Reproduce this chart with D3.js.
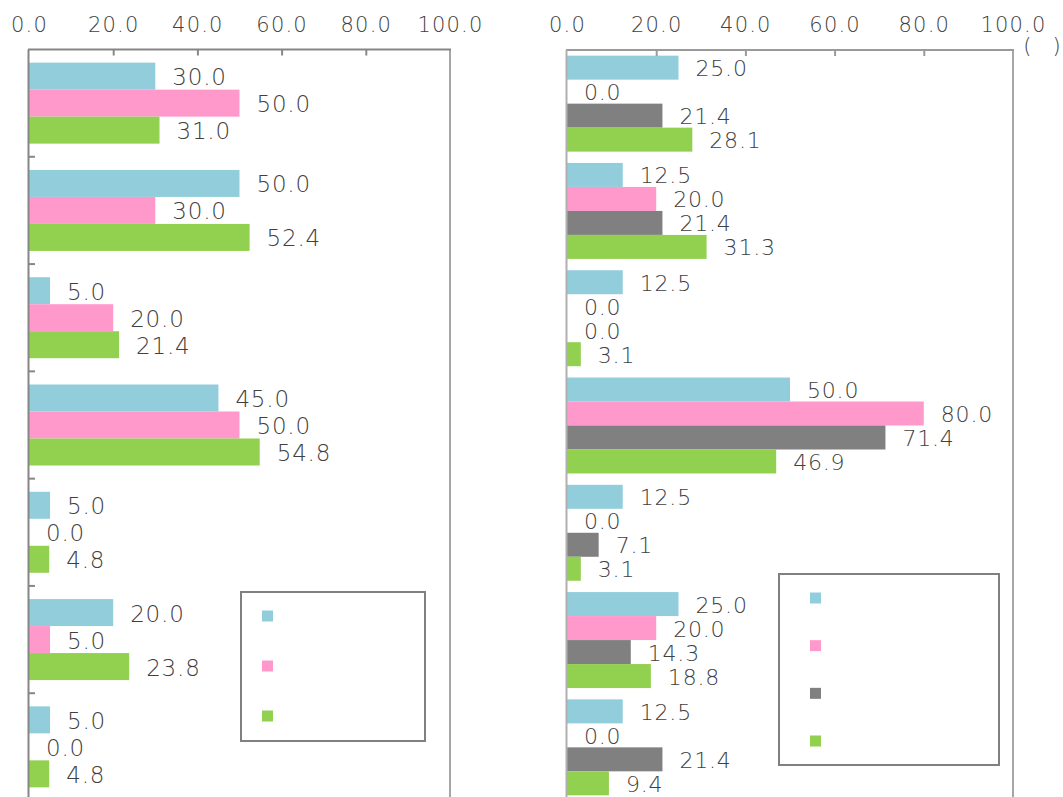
<!DOCTYPE html>
<html>
<head>
<meta charset="utf-8">
<script src="https://cdn.jsdelivr.net/npm/d3@7"></script>
<style>
    body { margin: 0; background: #fff; }
    svg { display: block; }
    text { font-family: "DejaVu Sans", sans-serif; font-weight: 200; fill: #404040; }
</style>
</head>
<body>
<div id="chart"></div>
<script>
// categories (labels are not shown in the picture)
let groups = [0, 1, 2, 3, 4, 5, 6];
let tickValues = [0, 20, 40, 60, 80, 100];

// left panel
let leftBlue  = [30.0, 50.0, 5.0, 45.0, 5.0, 20.0, 5.0];
let leftPink  = [50.0, 30.0, 20.0, 50.0, 0.0, 5.0, 0.0];
let leftGreen = [31.0, 52.4, 21.4, 54.8, 4.8, 23.8, 4.8];

// right panel
let rightBlue  = [25.0, 12.5, 12.5, 50.0, 12.5, 25.0, 12.5];
let rightPink  = [0.0, 20.0, 0.0, 80.0, 0.0, 20.0, 0.0];
let rightGray  = [21.4, 21.4, 0.0, 71.4, 7.1, 14.3, 21.4];
let rightGreen = [28.1, 31.3, 3.1, 46.9, 3.1, 18.8, 9.4];

let colors = {"blue": "#92cddc", "pink": "#ff99cc", "gray": "#808080", "green": "#92d050"};

function PanelVis(svg, opts) {
    let vis = this;
    vis.svg = svg;
    vis.opts = opts;
    vis.initVis();
}

PanelVis.prototype.initVis = function() {
    let vis = this;
    let o = vis.opts;

    vis.x = d3.scaleLinear().domain([0, 100]).range([o.left, o.right]);
    vis.y = d3.scaleBand().domain(groups).range([o.top, o.bottom]);

    let names = o.series.map(s => s.name);
    vis.yInner = d3.scaleBand()
        .domain(names)
        .range([0, vis.y.bandwidth()])
        .paddingInner(0)
        .paddingOuter(o.groupPad);

    vis.g = vis.svg.append("g");

    // plot frame (right side)
    vis.g.append("line")
        .attr("x1", o.right).attr("x2", o.right)
        .attr("y1", o.top).attr("y2", o.bottom)
        .attr("stroke", "#a6a6a6").attr("stroke-width", 2);

    vis.updateVis();
};

PanelVis.prototype.updateVis = function() {
    let vis = this;
    let o = vis.opts;

    let rows = [];
    o.series.forEach(function(s) {
        s.values.forEach(function(v, i) {
            rows.push({"group": groups[i], "name": s.name, "color": s.color, "value": v});
        });
    });

    vis.g.selectAll("rect.bar")
        .data(rows)
        .enter()
        .append("rect")
        .attr("class", "bar")
        .attr("x", vis.x(0))
        .attr("y", d => vis.y(d.group) + vis.yInner(d.name))
        .attr("width", d => vis.x(d.value) - vis.x(0))
        .attr("height", vis.yInner.bandwidth())
        .attr("fill", d => d.color);

    vis.g.selectAll("text.val")
        .data(rows)
        .enter()
        .append("text")
        .attr("class", "val")
        .attr("x", d => vis.x(d.value) + 17)
        .attr("y", d => vis.y(d.group) + vis.yInner(d.name) + vis.yInner.bandwidth() / 2 + o.labelShift)
        .style("font-size", o.labelSize + "px")
        .style("letter-spacing", "0.8px")
        .text(d => d.value.toFixed(1));

    // top axis
    let xAxis = d3.axisTop(vis.x)
        .tickValues(tickValues)
        .tickSize(-6)
        .tickFormat(d => d.toFixed(1));

    let ax = vis.g.append("g")
        .attr("transform", "translate(0," + o.top + ")")
        .call(xAxis);
    ax.select(".domain").remove();
    ax.selectAll(".tick line")
        .attr("stroke", o.axisColor)
        .attr("stroke-width", 2)
        .filter(d => d == 0 || d == 100).remove();
    ax.selectAll(".tick text")
        .attr("y", 32 - o.top)
        .attr("dy", null)
        .style("font-size", "21px")
        .style("letter-spacing", "1.2px")
        .attr("fill", "#404040")
        .attr("font-family", null);

    vis.g.append("line")
        .attr("x1", o.left - 1).attr("x2", o.right + 1)
        .attr("y1", o.top).attr("y2", o.top)
        .attr("stroke", o.axisColor).attr("stroke-width", 2);

    // left axis
    vis.g.append("line")
        .attr("x1", o.left - 0.5).attr("x2", o.left - 0.5)
        .attr("y1", o.top).attr("y2", o.bottom)
        .attr("stroke", o.leftColor).attr("stroke-width", 2);

    if (o.leftTicks) {
        vis.g.selectAll("line.ytick")
            .data(groups.slice(1))
            .enter()
            .append("line")
            .attr("class", "ytick")
            .attr("x1", o.left).attr("x2", o.left + 6)
            .attr("y1", d => vis.y(d)).attr("y2", d => vis.y(d))
            .attr("stroke", o.leftColor).attr("stroke-width", 2);
    }

    // legend
    let lg = vis.g.append("g");
    lg.append("rect")
        .attr("x", o.legend.x).attr("y", o.legend.y)
        .attr("width", o.legend.w).attr("height", o.legend.h)
        .attr("fill", "#fff")
        .attr("stroke", "#808080").attr("stroke-width", 2);

    let ly = d3.scalePoint()
        .domain(o.series.map(s => s.name))
        .range([o.legend.first, o.legend.last]);

    lg.selectAll("rect.key")
        .data(o.series)
        .enter()
        .append("rect")
        .attr("class", "key")
        .attr("x", o.legend.x + o.legend.keyOffset)
        .attr("y", d => ly(d.name) - 5.5)
        .attr("width", 11)
        .attr("height", 11)
        .attr("fill", d => d.color);
};

let svg = d3.select("#chart").append("svg")
    .attr("width", 1063)
    .attr("height", 797);

new PanelVis(svg, {
    "left": 29, "right": 450, "top": 49.5, "bottom": 800.5,
    "groupPad": 0.487,
    "labelSize": 23, "labelShift": 9,
    "axisColor": "#868686", "leftColor": "#868686", "leftTicks": true,
    "series": [
        {"name": "blue", "color": colors.blue, "values": leftBlue},
        {"name": "pink", "color": colors.pink, "values": leftPink},
        {"name": "green", "color": colors.green, "values": leftGreen}
    ],
    "legend": {"x": 241, "y": 592, "w": 184, "h": 149, "first": 616, "last": 716, "keyOffset": 21}
});

new PanelVis(svg, {
    "left": 567, "right": 1013, "top": 50, "bottom": 801,
    "groupPad": 0.236,
    "labelSize": 22, "labelShift": 8.5,
    "axisColor": "#9a9a9a", "leftColor": "#b0b0b0", "leftTicks": false,
    "series": [
        {"name": "blue", "color": colors.blue, "values": rightBlue},
        {"name": "pink", "color": colors.pink, "values": rightPink},
        {"name": "gray", "color": colors.gray, "values": rightGray},
        {"name": "green", "color": colors.green, "values": rightGreen}
    ],
    "legend": {"x": 779, "y": 574, "w": 220, "h": 191, "first": 598, "last": 741, "keyOffset": 31}
});

// unit label
svg.append("text")
    .attr("x", 1042)
    .attr("y", 53)
    .attr("text-anchor", "middle")
    .style("font-size", "21px")
    .text("(\u3000)");
</script>
</body>
</html>
